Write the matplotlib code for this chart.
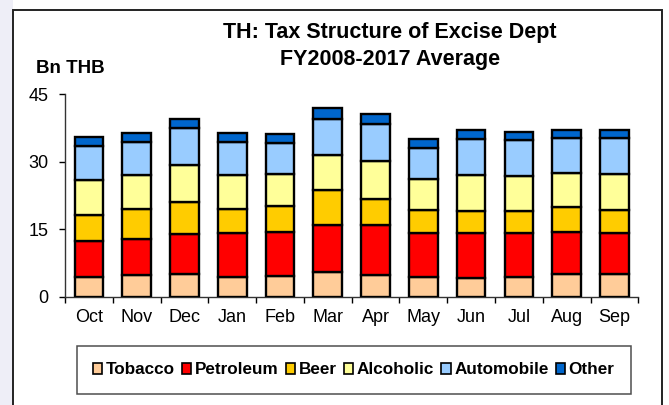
import matplotlib
matplotlib.use("Agg")
import matplotlib.pyplot as plt
from matplotlib.patches import Rectangle
import numpy as np

plt.rcParams['font.family'] = ['Liberation Sans', 'DejaVu Sans']

months = ["Oct", "Nov", "Dec", "Jan", "Feb", "Mar", "Apr", "May", "Jun", "Jul", "Aug", "Sep"]

# Average monthly excise tax by category, Bn THB
tobacco    = [4.3, 4.8, 5.1, 4.4, 4.6, 5.4, 4.9, 4.4, 4.2, 4.4, 5.0, 5.0]
petroleum  = [8.1, 8.1, 8.8, 9.8, 9.8, 10.6, 11.0, 9.8, 10.0, 9.8, 9.4, 9.2]
beer       = [5.7, 6.5, 7.1, 5.4, 5.8, 7.7, 5.9, 5.0, 4.9, 4.9, 5.5, 5.1]
alcoholic  = [7.8, 7.6, 8.3, 7.4, 7.1, 7.9, 8.3, 7.0, 8.0, 7.8, 7.6, 8.0]
automobile = [7.7, 7.4, 8.1, 7.4, 6.9, 7.9, 8.3, 6.9, 7.9, 7.9, 7.8, 8.0]
other      = [1.8, 2.0, 2.1, 1.9, 2.0, 2.4, 2.2, 2.0, 2.0, 1.9, 1.7, 1.7]

series = [
    ("Tobacco", tobacco, "#FFCC99"),
    ("Petroleum", petroleum, "#FF0000"),
    ("Beer", beer, "#FFCC00"),
    ("Alcoholic", alcoholic, "#FFFF99"),
    ("Automobile", automobile, "#99CCFF"),
    ("Other", other, "#0066CC"),
]

W, H = 669, 405
fig = plt.figure(figsize=(W / 100, H / 100), dpi=100)
fig.patch.set_facecolor("white")

# light background strip and outer chart frame
fig.patches.append(Rectangle((0, 0), 13.3 / W, 1, transform=fig.transFigure,
                             facecolor="#EEEEF7", edgecolor="none", zorder=-3))
fig.patches.append(Rectangle((13.3 / W, -0.05), (661.7 - 13.3) / W, 1.05 - 9.5 / H,
                             transform=fig.transFigure, facecolor="white",
                             edgecolor="#222222", linewidth=1.4, zorder=-2))

ax = fig.add_axes([65 / W, 1 - 296.7 / H, (638.3 - 65) / W, (296.7 - 94.3) / H])
ax.set_facecolor("none")
ax.set_zorder(1)

x = np.arange(len(months))
bottom = np.zeros(len(months))
handles = []
for name, vals, col in series:
    vals = np.array(vals)
    b = ax.bar(x, vals, width=0.6, bottom=bottom, color=col, edgecolor="black",
               linewidth=1.7, label=name, zorder=3)
    handles.append(b)
    bottom += vals

ax.set_xlim(-0.5, len(months) - 0.5)
ax.set_ylim(0, 45)
ax.set_yticks([0, 15, 30, 45])
ax.set_xticks(x)
ax.set_xticklabels(months, fontsize=13)
ax.set_xticks(np.arange(-0.5, len(months)), minor=True)
ax.tick_params(axis="x", which="major", length=0, pad=9)
ax.tick_params(axis="x", which="minor", length=4, width=1, direction="out")
ax.tick_params(axis="y", length=4, width=1, direction="out", pad=8, labelsize=13)

for s in ["top", "right"]:
    ax.spines[s].set_visible(False)
ax.spines["left"].set_linewidth(1)
ax.spines["bottom"].set_linewidth(1)
ax.spines["bottom"].set_color("#333333")
ax.spines["left"].set_color("#333333")

fig.text(390 / W, 1 - 37.8 / H, "TH: Tax Structure of Excise Dept", ha="center",
         va="baseline", fontsize=15.5, fontweight="bold")
fig.text(390 / W, 1 - 64.5 / H, "FY2008-2017 Average", ha="center",
         va="baseline", fontsize=15.5, fontweight="bold")
fig.text(36 / W, 1 - 72.7 / H, "Bn THB", ha="left", va="baseline",
         fontsize=13.5, fontweight="bold")

leg = fig.legend(handles=handles, labels=[s[0] for s in series], loc="center",
                 ncol=6, mode="expand",
                 bbox_to_anchor=(76.7 / W, 1 - 393.3 / H, 554 / W, 46.6 / H),
                 prop={"weight": "bold", "size": 12.3}, frameon=True, fancybox=False,
                 borderpad=0.95, handlelength=0.55, handleheight=0.55,
                 handletextpad=0.2, columnspacing=0.3, borderaxespad=0)
leg.get_frame().set_edgecolor("#222222")
leg.get_frame().set_linewidth(1.1)
for p in leg.get_patches():
    p.set_linewidth(1.2)

fig.savefig("out.png", dpi=100)
